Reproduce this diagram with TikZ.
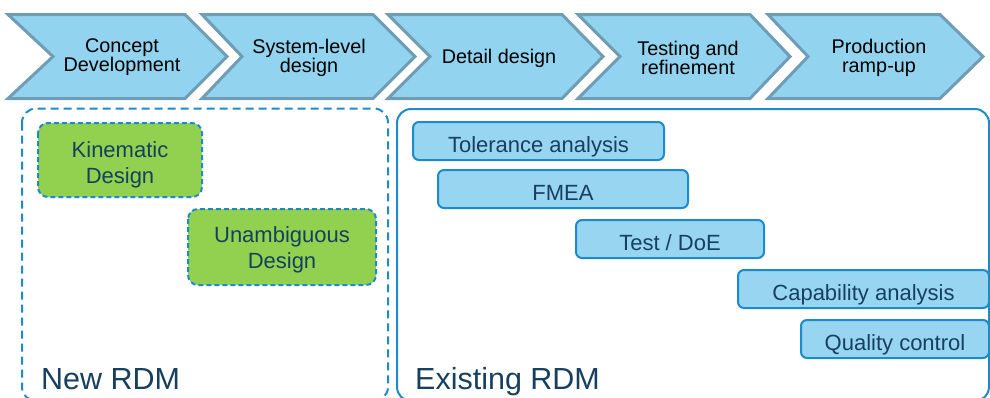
\documentclass[tikz,border=0pt]{standalone}
\usepackage{fontspec}
\setmainfont{Liberation Sans}
\definecolor{chevfill}{HTML}{92D3EF}
\definecolor{chevline}{HTML}{6E9DB5}
\definecolor{rdmblue}{HTML}{1C8BCB}
\definecolor{navy}{HTML}{17405F}
\definecolor{greenfill}{HTML}{92D050}
\definecolor{boxfill}{HTML}{97D5F1}
\begin{document}
\begin{tikzpicture}[x=1pt,y=-1pt,
 chev/.style={fill=chevfill,draw=chevline,line width=3pt,line join=miter},
 chevtext/.style={align=center,font=\fontsize{19.8}{19}\selectfont,text=black,inner sep=0pt},
 newbox/.style={draw=rdmblue,line width=2pt,dash pattern=on 8pt off 5pt,rounded corners=14pt},
 oldbox/.style={draw=rdmblue,line width=2pt,rounded corners=14pt},
 greenbox/.style={fill=greenfill,draw=rdmblue,line width=2pt,dash pattern=on 5pt off 3pt,rounded corners=10pt},
 greentext/.style={align=center,text=navy,font=\fontsize{22}{26}\selectfont,inner sep=0pt},
 toolbox/.style={fill=boxfill,draw=rdmblue,line width=2pt,rounded corners=6pt},
 tooltext/.style={text=navy,font=\fontsize{22}{24}\selectfont,inner sep=0pt,anchor=base},
 bigtext/.style={text=navy,font=\fontsize{30.5}{32}\selectfont,inner sep=0pt,anchor=base west}]
\useasboundingbox (0,0) rectangle (990,397);
\clip (0,0) rectangle (990,397);
% chevrons
\draw[chev] (8,14.5) -- (185,14.5) -- (227,56.5) -- (185,98.5) -- (8,98.5) -- (53,56.5) -- cycle;
\draw[chev] (202,14.5) -- (373,14.5) -- (415,56.5) -- (373,98.5) -- (202,98.5) -- (242,56.5) -- cycle;
\draw[chev] (388,14.5) -- (562,14.5) -- (603,56.5) -- (562,98.5) -- (388,98.5) -- (430,56.5) -- cycle;
\draw[chev] (578,14.5) -- (750,14.5) -- (790,56.5) -- (750,98.5) -- (578,98.5) -- (620,56.5) -- cycle;
\draw[chev] (768,14.5) -- (940,14.5) -- (983,56.5) -- (940,98.5) -- (768,98.5) -- (808,56.5) -- cycle;
\node[chevtext] (c1) at (122,57.5) {Concept\\Development};
\node[chevtext] (c2) at (309,57.5) {System-level\\design};
\node[chevtext] (c3) at (499,58) {Detail design};
\node[chevtext] (c4) at (688,57.5) {Testing and\\refinement};
\node[chevtext] (c5) at (879,57.5) {Production\\ramp-up};
% RDM frames
\draw[newbox] (22,108.5) rectangle (388,401);
\draw[oldbox] (397,109) rectangle (989,401);
% new RDM
\draw[greenbox] (38,123) rectangle (202,197);
\node[greentext] (kin) at (120,165) {Kinematic\\Design};
\draw[greenbox] (188,209) rectangle (376,285);
\node[greentext] (una) at (282,250) {Unambiguous\\Design};
\node[bigtext] (newrdm) at (41,389) {New RDM};
% existing RDM
\draw[toolbox] (413,122) rectangle (664,160);
\node[tooltext] (tol) at (538.5,152) {Tolerance analysis};
\draw[toolbox] (438,170) rectangle (688,208);
\node[tooltext] (fmea) at (563,200) {FMEA};
\draw[toolbox] (576,220) rectangle (764,258);
\node[tooltext] (doe) at (670,250.5) {Test / DoE};
\draw[toolbox] (738,270) rectangle (989,308);
\node[tooltext] (cap) at (863.5,300) {Capability analysis};
\draw[toolbox] (801,320) rectangle (989,358);
\node[tooltext] (qc) at (895,350.5) {Quality control};
\node[bigtext] (oldrdm) at (415,389) {Existing RDM};
\end{tikzpicture}
\end{document}
